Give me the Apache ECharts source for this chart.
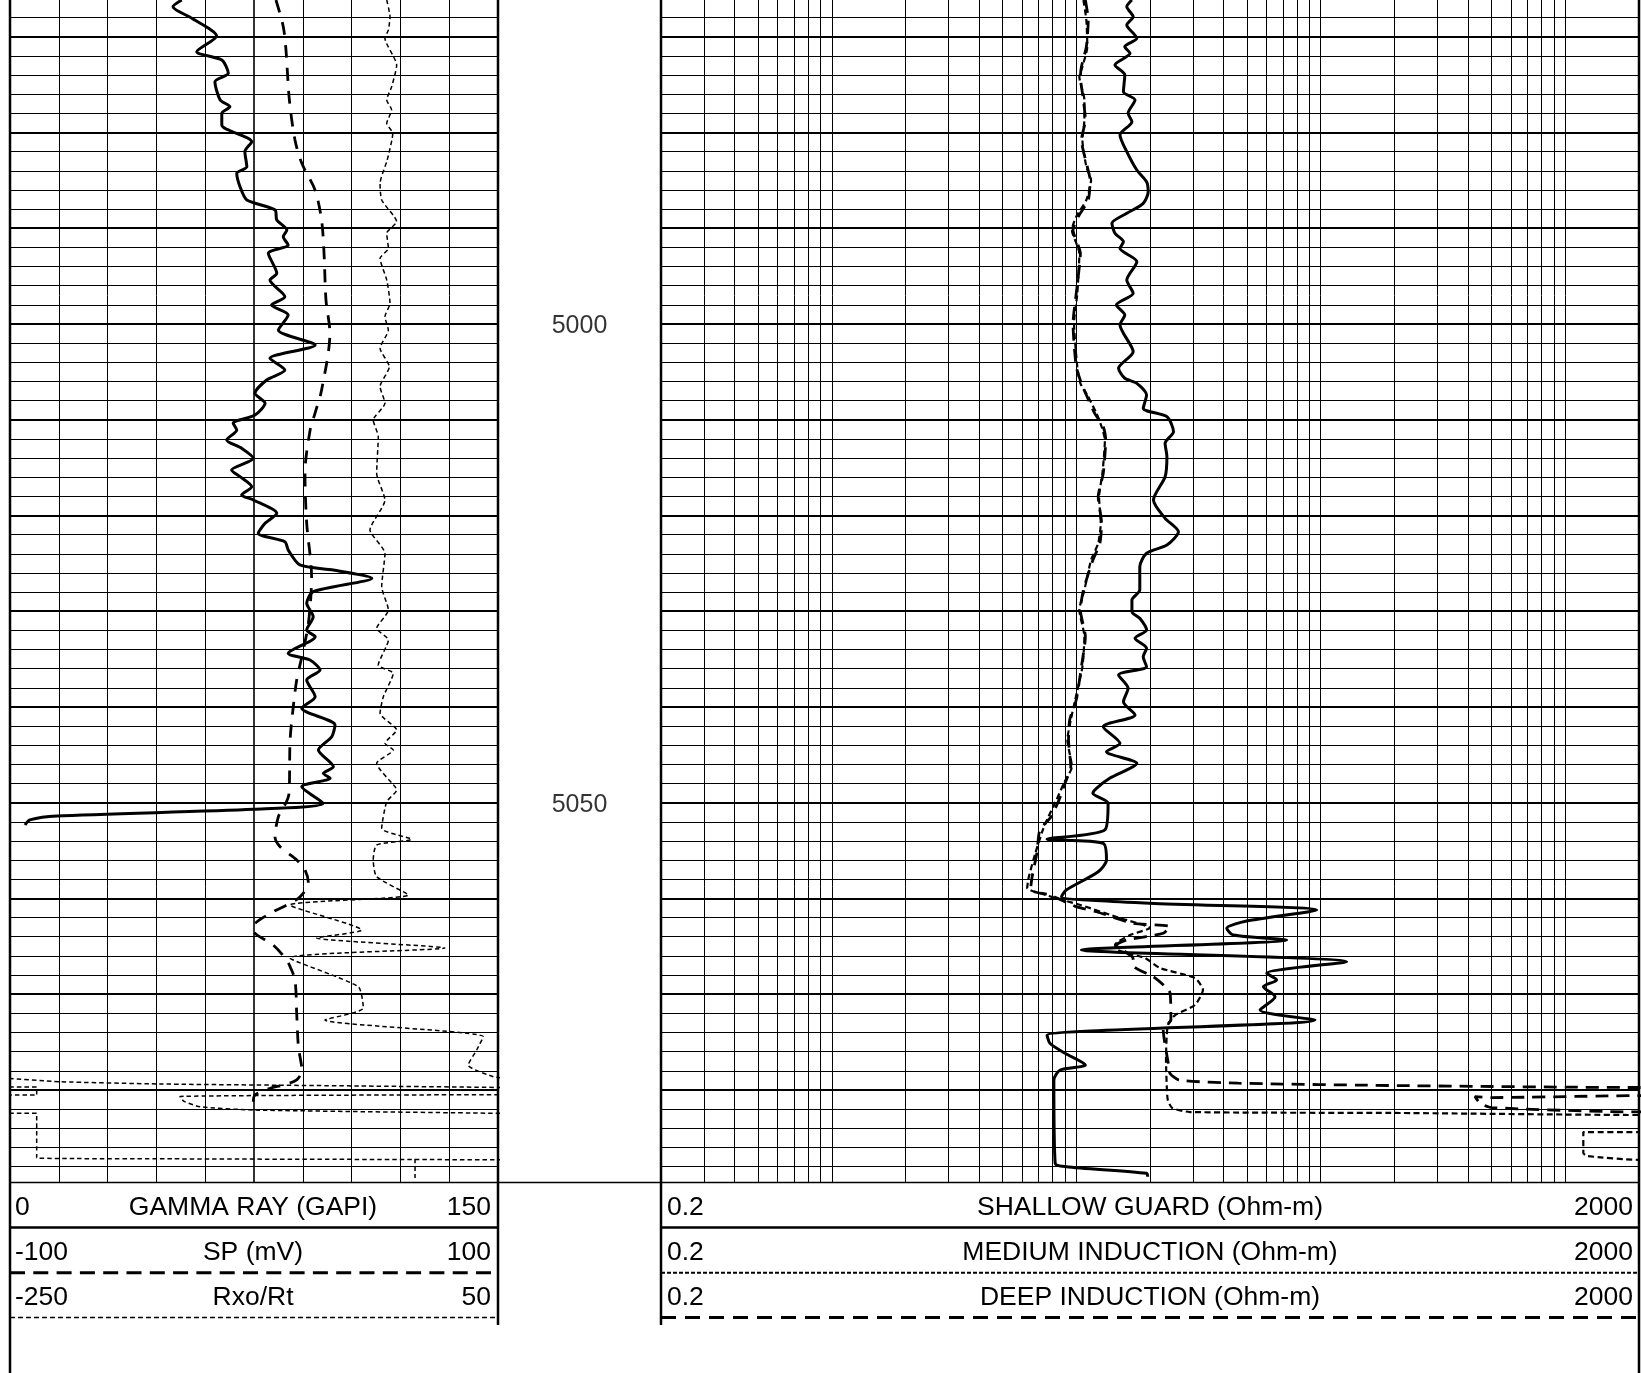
<!DOCTYPE html>
<html>
<head>
<meta charset="utf-8">
<style>
  html, body { margin: 0; padding: 0; background: #fff; }
  #chart { width: 1641px; height: 1373px; }
</style>
<script src="https://cdn.jsdelivr.net/npm/echarts@6/dist/echarts.min.js"></script>
</head>
<body>
<div id="chart"></div>
<script>
// depth window of the log (ft)
const topDepth = 4966.16;
const bottomDepth = 5089.65;
const depthLabels = [5000, 5050];

// track 1 curves: [value, depth]
const gammaRay = [[52.8,4966.16],[50.1,4966.86],[55.9,4968.07],[63.5,4969.92],[57.4,4971.56],[65.1,4972.43],[67.1,4973.82],[63.0,4974.69],[64.6,4976.6],[67.6,4977.3],[65.1,4977.99],[65.1,4979.22],[74.3,4980.96],[72.2,4982.0],[72.8,4983.57],[69.7,4984.26],[70.7,4985.66],[72.8,4987.05],[81.5,4988.09],[82.0,4989.14],[85.1,4990.18],[84.0,4990.88],[85.5,4991.75],[79.4,4992.62],[82.0,4994.71],[79.9,4995.41],[84.5,4997.15],[80.4,4998.02],[85.5,4999.06],[82.5,5000.63],[93.8,5002.2],[79.9,5003.58],[84.5,5004.81],[78.9,5005.85],[75.3,5007.24],[78.4,5008.28],[75.3,5009.51],[68.6,5010.37],[69.7,5011.07],[66.6,5012.12],[71.2,5012.98],[74.8,5014.03],[68.1,5015.25],[70.7,5015.95],[74.3,5017.0],[71.2,5017.86],[74.8,5018.38],[82.0,5019.77],[78.4,5020.82],[76.3,5021.86],[84.5,5022.74],[85.5,5023.6],[89.1,5025.17],[99.4,5025.7],[111.2,5026.56],[93.2,5027.96],[91.2,5029.18],[93.2,5030.57],[91.2,5031.96],[93.8,5032.66],[85.5,5034.4],[92.2,5035.1],[95.3,5036.14],[91.2,5037.19],[93.8,5038.93],[89.7,5040.14],[99.9,5041.89],[98.9,5043.11],[94.8,5044.5],[99.4,5046.24],[96.3,5046.93],[98.4,5047.45],[89.7,5048.33],[96.3,5050.07],[74.8,5050.69],[14.4,5051.39],[6.1,5051.8],[4.6,5052.33]];

const spontaneousPotential = [[9.0,4966.16],[12.0,4968.95],[13.1,4971.38],[14.5,4976.6],[16.8,4980.78],[19.6,4983.22],[25.0,4986.0],[27.7,4989.14],[28.7,4992.62],[29.5,4997.5],[31.1,5000.97],[27.7,5006.9],[25.0,5009.33],[23.0,5011.07],[20.9,5015.6],[21.6,5020.82],[23.6,5026.4],[22.3,5031.26],[19.6,5034.75],[17.5,5037.19],[16.1,5039.97],[14.8,5043.45],[14.5,5048.33],[14.1,5049.37],[12.0,5050.59],[10.0,5051.46],[8.6,5053.55],[10.7,5054.6],[17.5,5055.99],[20.9,5057.03],[22.3,5058.42],[18.9,5059.82],[14.8,5060.51],[7.9,5061.39],[0.4,5062.6],[-0.3,5063.3],[7.9,5064.87],[13.4,5066.43],[14.8,5067.13],[16.8,5068.52],[17.5,5072.0],[18.2,5075.49],[19.6,5077.92],[17.5,5078.96],[12.0,5079.49],[6.6,5079.83],[0.4,5080.53],[-0.3,5081.23]];

// wrapped trace: '-' breaks the line where it wraps round the track
const rxoRt = [[-18.4,4966.16],[-16.4,4967.9],[-17.4,4969.29],[-19.5,4970.16],[-12.3,4972.95],[-15.4,4975.22],[-18.4,4976.6],[-15.4,4977.65],[-18.4,4979.04],[-14.7,4980.08],[-18.1,4982.87],[-22.5,4985.31],[-21.5,4987.05],[-12.3,4989.32],[-18.4,4990.53],[-17.4,4992.1],[-22.5,4993.14],[-18.4,4995.41],[-16.4,4997.84],[-19.5,4999.24],[-17.4,5000.63],[-22.5,5002.54],[-16.8,5004.46],[-22.5,5006.55],[-19.5,5008.28],[-26.7,5010.03],[-23.6,5011.77],[-24.6,5015.6],[-19.5,5018.39],[-28.7,5021.52],[-19.5,5023.95],[-21.5,5027.44],[-17.4,5029.87],[-24.6,5031.79],[-17.4,5033.01],[-23.6,5035.62],[-14.4,5036.49],[-20.5,5038.93],[-22.5,5040.66],[-12.3,5042.41],[-19.5,5043.8],[-14.4,5044.5],[-24.6,5045.89],[-13.3,5048.33],[-12.3,5048.68],[-18.4,5049.9],[-21.5,5052.68],[-3.1,5053.83],[-24.6,5054.42],[-26.7,5055.99],[-24.6,5057.73],[-5.1,5059.64],[-77.9,5060.69],[-33.8,5063.3],[-61.5,5064.13],[17.4,5065.18],[-77.9,5066.22],[-35.9,5069.22],[-32.8,5071.44],[-56.4,5072.7],[41.0,5074.44],[36.9,5075.83],[31.7,5077.4],[47.1,5078.62],[55,5078.8],
  ['-','-'],[-255,5078.75],[-219.3,5079.14],[-157.8,5079.38],[-34.8,5079.59],[55,5079.75],
  ['-','-'],[-255,5079.7],[-233.6,5079.7],[-233.6,5080.53],[-255,5080.53],
  ['-','-'],[55,5080.5],[-145.5,5080.7],[-143,5081.2],[-133.2,5081.75],[-100.4,5082.1],[55,5082.45],
  ['-','-'],[-255,5082.45],[-233.6,5082.45],[-233.6,5087.1],[-150,5087.2],[-50,5087.25],[55,5087.3],
  ['-','-'],[-1,5087.2],[-1,5089.2]];

// track 2 curves: [ohm-m, depth]
const shallowGuard = [[16.9,4966.16],[16.1,4966.86],[17.1,4967.9],[16.1,4968.77],[17.7,4970.16],[15.8,4971.04],[16.6,4971.73],[14.4,4972.95],[15.8,4973.99],[15.6,4975.74],[17.4,4976.6],[16.3,4977.99],[16.9,4978.87],[15.1,4980.26],[16.1,4982.0],[17.7,4983.92],[19.4,4985.14],[19.7,4986.18],[18.8,4987.4],[16.1,4988.44],[14.0,4989.48],[14.4,4990.53],[15.6,4991.41],[15.1,4992.1],[17.7,4993.49],[16.1,4995.41],[17.1,4996.8],[14.6,4998.02],[15.8,4999.06],[15.1,5000.11],[15.6,5000.97],[17.1,5002.9],[14.9,5004.63],[15.8,5005.67],[17.7,5006.2],[19.4,5007.42],[18.8,5008.81],[23.5,5009.68],[25.0,5011.25],[23.1,5012.46],[23.5,5013.86],[23.1,5015.95],[20.7,5018.39],[23.1,5020.3],[26.2,5021.7],[23.5,5023.08],[19.4,5023.95],[18.2,5025.35],[18.2,5027.79],[16.9,5028.83],[16.9,5030.05],[18.2,5030.74],[19.4,5031.96],[17.4,5032.83],[19.4,5033.87],[18.8,5034.75],[19.4,5035.8],[14.9,5036.66],[16.3,5038.05],[15.6,5039.45],[17.4,5040.84],[12.9,5042.06],[15.1,5043.8],[13.3,5044.67],[17.7,5045.89],[13.7,5047.45],[12.1,5048.5],[11.7,5049.02],[13.5,5050.06],[13.1,5052.85],[7.6,5053.82],[12.9,5054.24],[13.3,5055.99],[12.3,5057.21],[9.1,5059.12],[8.7,5059.82],[20.0,5060.51],[96.4,5061.21],[49.8,5062.36],[41.3,5063.12],[43.9,5063.82],[72.6,5064.34],[10.5,5065.39],[127.8,5066.61],[60.2,5067.82],[66.1,5068.52],[58.3,5069.22],[65.1,5070.26],[56.5,5071.65],[94.8,5072.7],[7.6,5074.27],[7.8,5075.13],[9.0,5076.18],[10.9,5077.4],[8.6,5077.92],[8.1,5078.96],[8.2,5087.67],[9.1,5088.02],[19.4,5088.71],[19.6,5089.07]];

const mediumInduction = [[10.7,4966.16],[11.0,4968.25],[11.1,4971.04],[10.6,4973.13],[10.3,4974.17],[10.8,4976.6],[10.8,4978.69],[10.6,4980.78],[11.0,4983.57],[11.5,4984.96],[11.0,4987.05],[10.0,4988.79],[9.6,4990.18],[10.3,4992.62],[10.1,4996.8],[9.8,4999.93],[10.1,5004.46],[10.4,5006.2],[11.1,5007.42],[12.1,5009.33],[12.7,5010.73],[13.1,5012.12],[12.8,5015.6],[12.4,5018.04],[12.6,5020.82],[12.3,5022.91],[11.5,5024.65],[10.8,5027.79],[10.3,5029.87],[10.8,5032.66],[10.6,5035.8],[9.9,5039.28],[9.5,5041.36],[9.2,5043.45],[9.6,5046.24],[8.9,5047.97],[8.3,5049.72],[7.7,5051.46],[7.3,5052.85],[6.8,5055.29],[6.4,5057.73],[6.3,5058.9],[7.5,5059.64],[10.4,5060.69],[15.1,5062.05],[20.0,5063.09],[16.6,5063.82],[14.4,5064.86],[14.8,5065.39],[19.1,5066.22],[22.0,5067.27],[30.6,5068.31],[33.0,5069.56],[30.6,5071.13],[25.4,5072.18],[23.7,5073.22],[23.3,5076.88],[23.5,5080.01],[23.7,5081.05],[24.7,5081.89],[29.2,5082.31],[211,5082.41],[2000,5082.62],[2600,5082.62],[2600,5084.4],[2000,5084.4],[1188,5084.4],[1188,5086.6],[1230,5086.9],[2000,5087.3],[2600,5087.3]];

const deepInduction = [[10.9,4966.16],[11.2,4968.25],[11.0,4971.04],[10.5,4973.13],[10.4,4974.17],[10.7,4976.6],[10.9,4978.69],[10.5,4980.78],[11.1,4983.57],[11.4,4984.96],[11.2,4987.05],[10.2,4988.79],[9.7,4990.18],[10.4,4992.62],[10.0,4996.8],[9.7,4999.93],[10.0,5004.46],[10.5,5006.2],[11.0,5007.42],[11.9,5009.33],[12.9,5010.73],[13.2,5012.12],[12.9,5015.6],[12.3,5018.04],[12.7,5020.82],[12.5,5022.91],[11.7,5024.65],[10.7,5027.79],[10.4,5029.87],[10.9,5032.66],[10.5,5035.8],[10.0,5039.28],[9.4,5041.36],[9.3,5043.45],[9.5,5046.24],[9.0,5047.97],[8.5,5049.72],[7.9,5051.46],[7.1,5052.85],[6.9,5055.29],[6.6,5057.73],[6.5,5059.12],[7.8,5059.64],[10.0,5060.86],[12.1,5061.39],[17.1,5062.6],[24.2,5062.95],[22.7,5063.64],[16.1,5064.34],[14.6,5064.86],[17.0,5066.12],[17.3,5067.16],[21.0,5068.3],[24.2,5069.88],[24.4,5072.7],[22.7,5073.74],[23.8,5077.23],[24.2,5078.28],[26.4,5078.98],[46,5079.3],[211,5079.55],[2000,5079.75],[2600,5079.75],[2600,5080.6],[2000,5080.6],[501,5080.8],[428,5080.7],[449,5081.4],[501,5081.85],[2000,5082.3],[2600,5082.3]];

var dom = document.getElementById("chart");
var myChart = echarts.init(dom, null, { renderer: "canvas" });

const font = '"Liberation Sans", Arial, sans-serif';
const trackTop = 0;
const trackHeight = 1182.3;

// depth grid lines, every 2 ft, heavy every 10 ft
const depthLines = [];
for (let d = 4968; d <= 5088; d += 2) {
  depthLines.push({ yAxis: d, lineStyle: { width: d % 10 === 0 ? 2.2 : 1 } });
}
const linearLines = [];
for (let v = 15; v < 150; v += 15) {
  linearLines.push({ xAxis: v, lineStyle: { width: v === 75 ? 1.6 : 1 } });
}
const logLines = [];
for (const base of [0.1, 1, 10, 100, 1000]) {
  for (let m = 1; m <= 9; m++) {
    const v = +(m * base).toPrecision(3);
    if (v > 0.2 && v < 2000) logLines.push({ xAxis: v });
  }
}

function gridSeries(xi, yi, lines) {
  return {
    type: "line",
    xAxisIndex: xi,
    yAxisIndex: yi,
    data: [],
    silent: true,
    markLine: {
      silent: true,
      animation: false,
      symbol: ["none", "none"],
      label: { show: false },
      emphasis: { disabled: true },
      lineStyle: { color: "#000", width: 1, type: "solid" },
      data: lines,
    },
  };
}

function curve(name, xi, yi, data, width, dash, smooth) {
  return {
    name: name,
    type: "line",
    xAxisIndex: xi,
    yAxisIndex: yi,
    data: data,
    symbol: "none",
    showSymbol: false,
    connectNulls: false,
    smooth: smooth,
    clip: true,
    z: 5,
    lineStyle: { color: "#000", width: width, type: dash, cap: "butt" },
    emphasis: { disabled: true },
  };
}

function hline(x1, x2, y, width, dash) {
  return {
    type: "line",
    silent: true,
    shape: { x1: x1, y1: y, x2: x2, y2: y },
    style: { stroke: "#000", lineWidth: width, lineDash: dash || null },
  };
}
function vline(x, y1, y2, width) {
  return {
    type: "line",
    silent: true,
    shape: { x1: x, y1: y1, x2: x, y2: y2 },
    style: { stroke: "#000", lineWidth: width },
  };
}
function label(text, x, y, align) {
  return {
    type: "text",
    silent: true,
    x: x,
    y: y,
    style: {
      text: text,
      fill: "#000",
      font: "26.5px " + font,
      align: align,
      verticalAlign: "middle",
      textAlign: align,
      textVerticalAlign: "middle",
    },
  };
}

const depthAxis = (g) => ({
  gridIndex: g, type: "value", inverse: true, min: topDepth, max: bottomDepth, show: false,
});

var option = {
  animation: false,
  backgroundColor: "#fff",
  grid: [
    { left: 10, top: trackTop, width: 488, height: trackHeight },
    { left: 661, top: trackTop, width: 977.6, height: trackHeight },
    { left: 498, top: trackTop, width: 163, height: trackHeight },
  ],
  xAxis: [
    { gridIndex: 0, type: "value", min: 0, max: 150, show: false },
    { gridIndex: 0, type: "value", min: -100, max: 100, show: false },
    { gridIndex: 0, type: "value", min: -250, max: 50, show: false },
    { gridIndex: 1, type: "log", logBase: 10, min: 0.2, max: 2000, show: false },
    { gridIndex: 2, type: "value", min: 0, max: 1, show: false },
  ],
  yAxis: [depthAxis(0), depthAxis(1), depthAxis(2)],
  series: [
    gridSeries(0, 0, depthLines.concat(linearLines)),
    gridSeries(3, 1, depthLines.concat(logLines)),
    curve("Rxo/Rt", 2, 0, rxoRt, 1.5, [4.5, 3], 0.2),
    curve("SP", 1, 0, spontaneousPotential, 2.8, [13, 10], 0.3),
    curve("Gamma Ray", 0, 0, gammaRay, 3, "solid", 0.25),
    curve("Medium Induction", 3, 1, mediumInduction, 2.2, [6, 3.5], 0.2),
    curve("Deep Induction", 3, 1, deepInduction, 2.8, [13, 8], 0.2),
    curve("Shallow Guard", 3, 1, shallowGuard, 3, "solid", 0.25),
    {
      type: "scatter",
      xAxisIndex: 4,
      yAxisIndex: 2,
      data: depthLabels.map((d) => [0.5, d]),
      symbolSize: 1,
      itemStyle: { color: "rgba(0,0,0,0)" },
      silent: true,
      label: {
        show: true,
        position: "inside",
        offset: [0, 2],
        formatter: (p) => String(p.value[1]),
        color: "#000",
        fontSize: 25,
        fontFamily: font,
      },
    },
  ],
  graphic: [
    // frame
    vline(10, 0, 1373, 2.5),
    vline(498, 0, 1325, 2.5),
    vline(661, 0, 1325, 2.5),
    vline(1639, 0, 1373, 2.5),
    hline(10, 1639, 1182.5, 1.5),
    // track 1 header
    hline(10, 498, 1227.5, 2.5),
    hline(10, 498, 1272.7, 3, [15, 8.3]),
    hline(10, 498, 1317.5, 1.5, [5, 3]),
    label("0", 15, 1208, "left"),
    label("GAMMA RAY (GAPI)", 253, 1208, "center"),
    label("150", 491, 1208, "right"),
    label("-100", 15, 1253, "left"),
    label("SP (mV)", 253, 1253, "center"),
    label("100", 491, 1253, "right"),
    label("-250", 15, 1298, "left"),
    label("Rxo/Rt", 253, 1298, "center"),
    label("50", 491, 1298, "right"),
    // track 2 header
    hline(661, 1639, 1227.5, 2.5),
    hline(661, 1639, 1272.7, 2, [4, 2]),
    hline(661, 1639, 1317.5, 3, [15, 9]),
    label("0.2", 667, 1208, "left"),
    label("SHALLOW GUARD (Ohm-m)", 1150, 1208, "center"),
    label("2000", 1633, 1208, "right"),
    label("0.2", 667, 1253, "left"),
    label("MEDIUM INDUCTION (Ohm-m)", 1150, 1253, "center"),
    label("2000", 1633, 1253, "right"),
    label("0.2", 667, 1298, "left"),
    label("DEEP INDUCTION (Ohm-m)", 1150, 1298, "center"),
    label("2000", 1633, 1298, "right"),
  ],
};

if (option && typeof option === "object") {
  myChart.setOption(option);
}
window.addEventListener("resize", myChart.resize);
</script>
</body>
</html>
